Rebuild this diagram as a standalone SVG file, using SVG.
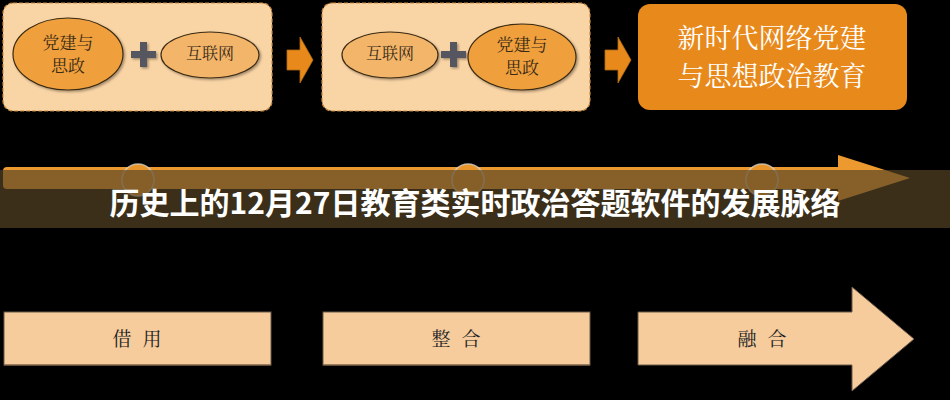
<svg xmlns="http://www.w3.org/2000/svg" width="950" height="400" viewBox="0 0 950 400">
<defs>
<style>
.panel{fill:#f9d4a5;stroke:#c8893e;stroke-width:1.2;stroke-dasharray:4 2}
.big{fill:#efa03e;stroke:#3a2a12;stroke-width:1.2}
.small{fill:#f3b56a;stroke:#3a2a12;stroke-width:1.2}
.plus{fill:#55575e}
.etxt{font-family:"Noto Serif CJK SC","Noto Sans CJK SC",serif;fill:#3a2a14;text-anchor:middle}
.conn{fill:#e8891c;stroke:#b06a14;stroke-width:0.8}
.btm{fill:#f6cc9c;stroke:#6b5a48;stroke-width:1}
.btxt{font-family:"Noto Serif CJK SC","Noto Sans CJK SC",serif;font-size:19px;fill:#222;text-anchor:middle;word-spacing:6px}
.dot{fill:#e8962c;stroke:#d8d0c4;stroke-width:1.6;stroke-opacity:0.8}
.w{font-family:"Noto Serif CJK SC","Noto Sans CJK SC",serif;font-size:27px;fill:#fff;text-anchor:middle}
</style>
<filter id="sh" x="-20%" y="-20%" width="140%" height="140%"><feDropShadow dx="1.5" dy="1.5" stdDeviation="1.2" flood-color="#000" flood-opacity="0.35"/></filter>
</defs>
<rect width="950" height="400" fill="#000"/>

<g id="panel1">
<rect class="panel" x="3" y="3" width="269" height="108" rx="10"/>
<ellipse class="big" cx="68" cy="54" rx="55" ry="36" filter="url(#sh)"/>
<text class="etxt" font-size="17" x="68" y="49">党建与</text>
<text class="etxt" font-size="17" x="68" y="72">思政</text>
<path class="plus" d="M140 42h7v9h9v7h-9v9h-7v-9h-9v-7h9z" filter="url(#sh)"/>
<ellipse class="small" cx="210" cy="55" rx="49" ry="23" filter="url(#sh)"/>
<text class="etxt" font-size="16" x="210" y="59">互联网</text>
</g>

<g id="panel2">
<rect class="panel" x="322" y="3" width="268" height="108" rx="10"/>
<ellipse class="small" cx="390" cy="55" rx="48" ry="23" filter="url(#sh)"/>
<text class="etxt" font-size="16" x="390" y="59">互联网</text>
<path class="plus" d="M450 42h7v9h9v7h-9v9h-7v-9h-9v-7h9z" filter="url(#sh)"/>
<ellipse class="big" cx="522" cy="57" rx="54" ry="33" filter="url(#sh)"/>
<text class="etxt" font-size="17" x="522" y="51">党建与</text>
<text class="etxt" font-size="17" x="522" y="74">思政</text>
</g>

<g id="panel3">
<rect x="638" y="4" width="269" height="106" rx="12" fill="#e8891c"/>
<text class="w" x="772" y="48">新时代网络党建</text>
<text class="w" x="772" y="86">与思想政治教育</text>
</g>

<g id="connectors">
<path class="conn" d="M287 50h13v-13l13 23l-13 23v-13h-13z"/>
<path class="conn" d="M605 50h13v-13l13 23l-13 23v-13h-13z"/>
</g>

<g id="timeline">
<rect x="3" y="167" width="842" height="22" rx="4" fill="#ec9a30"/>
<polygon points="838,155 910,178 838,201" fill="#ec9a30"/>
<circle class="dot" cx="138" cy="180" r="16"/>
<circle class="dot" cx="468" cy="180" r="16"/>
<circle class="dot" cx="762" cy="180" r="16"/>
</g>

<g id="title">
<rect x="0" y="170" width="950" height="58" fill="rgb(87,69,39)" fill-opacity="0.68"/>
<text x="475" y="214" font-family="Noto Sans CJK SC,sans-serif" font-weight="700" font-size="30" fill="#fff" text-anchor="middle">历史上的12月27日教育类实时政治答题软件的发展脉络</text>
</g>

<g id="stage1">
<rect class="btm" x="4" y="312" width="267" height="53" stroke="none"/>
<line x1="4" y1="365" x2="271" y2="365" stroke="#8a6a4a" stroke-width="1.2"/>
<text class="btxt" x="137" y="346">借 用</text>
</g>
<g id="stage2">
<rect class="btm" x="323" y="312" width="267" height="53" stroke="none"/>
<line x1="323" y1="365" x2="590" y2="365" stroke="#8a6a4a" stroke-width="1.2"/>
<text class="btxt" x="456" y="346">整 合</text>
</g>
<g id="stage3">
<polygon class="btm" points="638,312 852,312 852,287 914,339 852,391 852,365 638,365"/>
<text class="btxt" x="762" y="346">融 合</text>
</g>
</svg>
